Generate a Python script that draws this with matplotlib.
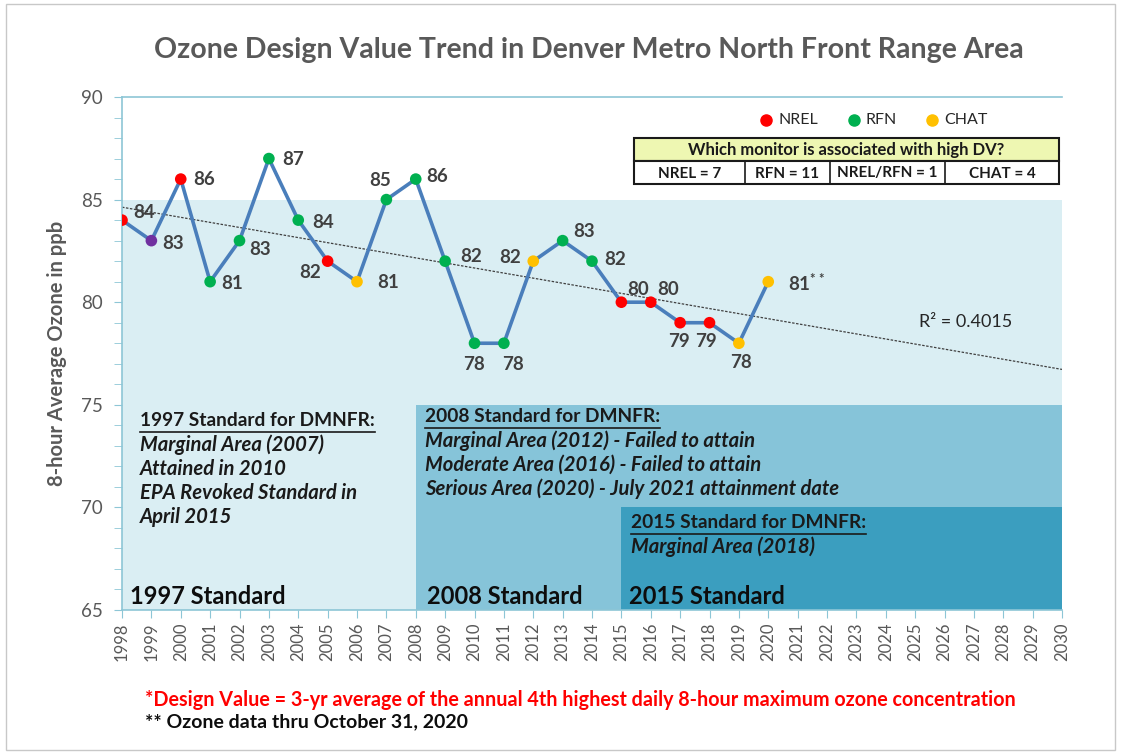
import numpy as np
import matplotlib
matplotlib.use("Agg")
import matplotlib.pyplot as plt
from matplotlib.patches import Rectangle
from matplotlib.lines import Line2D

# data
years = list(range(1998, 2021))
design_values = [84, 83, 86, 81, 83, 87, 84, 82, 81, 85, 86, 82, 78, 78, 82, 83, 82, 80, 80, 79, 79, 78, 81]
monitors = ["NREL", "NREL/RFN", "NREL", "RFN", "RFN", "RFN", "RFN", "NREL", "CHAT", "RFN", "RFN", "RFN",
            "RFN", "RFN", "CHAT", "RFN", "RFN", "NREL", "NREL", "NREL", "NREL", "CHAT", "CHAT"]
value_labels = [str(v) for v in design_values]
value_labels[-1] = r"81$^{\mathbf{**}}$"
standard_starts = [1998, 2008, 2015]
standard_levels = [85, 75, 70]
standard_names = ["1997 Standard", "2008 Standard", "2015 Standard"]
monitor_counts = ["NREL = 7", "RFN = 11", "NREL/RFN = 1", "CHAT = 4"]
r_squared = "R² = 0.4015"

monitor_colors = {"NREL": "#FF0000", "RFN": "#00B050", "CHAT": "#FFC000", "NREL/RFN": "#7030A0"}
region_colors = ["#DAEEF3", "#86C4D9", "#3B9EBF"]
# label offsets in pixels (dx, dy), screen y is up
label_offsets = [(22, 8), (22, -3), (23, 0), (22, -2), (21, -9), (24, -1), (25, -2), (-18, -11),
                 (31, -1), (-6, 19), (21, 3), (26, 5), (0, -21), (9, -21), (-23, 4), (21, 9),
                 (23, 2), (17, 13), (17, 13), (-1, -19), (-3, -19), (2, -19), (38, -1)]

W, H = 1121, 754
fig = plt.figure(figsize=(W / 100, H / 100), dpi=100)
FONT = "Lato"
plt.rcParams["font.family"] = [FONT, "DejaVu Sans"]
plt.rcParams["mathtext.fontset"] = "custom"
plt.rcParams["mathtext.bf"] = "Lato:bold"


def px(x, y):
    return x / W, 1 - y / H


ax = fig.add_axes([122 / W, 1 - 610 / H, (1062 - 122) / W, (610 - 97) / H])
ax.set_xlim(1998, 2030)
ax.set_ylim(65, 90)

# shaded standard regions
for start, level, col in zip(standard_starts, standard_levels, region_colors):
    ax.add_patch(Rectangle((start, 65), 2030 - start, level - 65, facecolor=col, edgecolor="none", zorder=0))

# trend line
coef = np.polyfit(years, design_values, 1)
xt = np.array([1998, 2030])
ax.plot(xt, np.polyval(coef, xt), color="#404040", lw=0.9, ls=(0, (2, 1.2)), zorder=2)

# data line and markers
ax.plot(years, design_values, color="#4A7EBB", lw=2.6, zorder=3)
ax.scatter(years, design_values, c=[monitor_colors[m] for m in monitors], s=70, zorder=4, edgecolors="none")

for x, y, lab, (dx, dy) in zip(years, design_values, value_labels, label_offsets):
    ax.annotate(lab, (x, y), xytext=(dx, dy), textcoords="offset pixels", ha="center", va="center",
                fontsize=13.5, fontweight="bold", color="#404040", zorder=5)

# axes styling
spine_col = "#8DC6D6"
for s in ["right", "bottom", "top"]:
    ax.spines[s].set_visible(False)
ax.spines["left"].set_color(spine_col)
ax.spines["left"].set_linewidth(1.2)
ax.axhline(90, color=spine_col, lw=1.2, zorder=1, clip_on=False)
ax.axhline(65, color=spine_col, lw=1.2, zorder=1, clip_on=False)
ax.set_xticks(range(1998, 2031))
ax.set_xticklabels([str(y) for y in range(1998, 2031)], rotation=90, fontsize=12, color="#595959")
ax.set_yticks(range(65, 91, 5))
ax.set_yticks(range(65, 91), minor=True)
ax.tick_params(axis="y", which="major", length=6, color=spine_col, labelsize=13.5, labelcolor="#595959", pad=8)
ax.tick_params(axis="y", which="minor", length=6, color=spine_col)
ax.tick_params(axis="x", length=6, color=spine_col, pad=3)
ax.set_ylabel("8-hour Average Ozone in ppb", fontsize=14.5, fontweight="bold", color="#595959", labelpad=10)

# title
fig.text(*px(589, 50), "Ozone Design Value Trend in Denver Metro North Front Range Area", ha="center", va="center",
         fontsize=20.5, fontweight="bold", color="#595959")

# legend dots
for name, xpos in zip(["NREL", "RFN", "CHAT"], [766, 854, 932]):
    fig.add_artist(Line2D([xpos / W], [1 - 120 / H], marker="o", color=monitor_colors[name], markersize=8, ls="none"))
    fig.text(*px(xpos + 12, 120), name, ha="left", va="center", fontsize=11.5, color="#262626")

# table
tx0, tx1, ty0, ty1, ty2 = 634, 1059, 138, 161, 184
fig.add_artist(Rectangle(px(tx0, ty1), (tx1 - tx0) / W, (ty1 - ty0) / H, facecolor="#EEF7B2", edgecolor="#1a1a1a", lw=1.5))
fig.add_artist(Rectangle(px(tx0, ty2), (tx1 - tx0) / W, (ty2 - ty1) / H, facecolor="white", edgecolor="#1a1a1a", lw=1.5))
fig.text(*px((tx0 + tx1) / 2, (ty0 + ty1) / 2 + 1), "Which monitor is associated with high DV?", ha="center", va="center",
         fontsize=12, fontweight="bold", color="#1a1a1a")
cells = [tx0, 745, 830, 945, tx1]
for i, lab in enumerate(monitor_counts):
    if i > 0:
        fig.add_artist(Line2D([cells[i] / W] * 2, [1 - ty1 / H, 1 - ty2 / H], color="#1a1a1a", lw=1.2))
    fig.text(*px((cells[i] + cells[i + 1]) / 2, (ty1 + ty2) / 2 + 1), lab, ha="center", va="center",
             fontsize=11, fontweight="bold", color="#1a1a1a")

fig.text(*px(966, 322), r_squared, ha="center", va="center", fontsize=13, color="#262626")

# standards text
renderer = fig.canvas.get_renderer()


def heading(x, y, s):
    t = fig.text(*px(x, y), s, ha="left", va="center", fontsize=13.8, fontweight="bold", color="#1a1a1a")
    bb = t.get_window_extent(renderer)
    yy = 1 - (y + 11) / H
    fig.add_artist(Line2D([bb.x0 / W, bb.x1 / W], [yy, yy], color="#1a1a1a", lw=1.2))


def body(x, y, lines, step=24):
    for i, s in enumerate(lines):
        fig.text(*px(x, y + i * step), s, ha="left", va="center", fontsize=14.6, fontweight="bold",
                 fontstyle="italic", color="#1a1a1a")


heading(140, 421, "1997 Standard for DMNFR:")
body(140, 445, ["Marginal Area (2007)", "Attained in 2010", "EPA Revoked Standard in", "April 2015"])
heading(425, 417, "2008 Standard for DMNFR:")
body(425, 441, ["Marginal Area (2012) - Failed to attain", "Moderate Area (2016) - Failed to attain",
                "Serious Area (2020) - July 2021 attainment date"])
heading(631, 523, "2015 Standard for DMNFR:")
body(631, 547, ["Marginal Area (2018)"])

for name, xpos in zip(standard_names, [130, 427, 629]):
    fig.text(*px(xpos, 597), name, ha="left", va="center", fontsize=17, fontweight="bold", color="#0d0d0d")

# footnotes
fig.text(*px(145, 700), "*Design Value = 3-yr average of the annual 4th highest daily 8-hour maximum ozone concentration",
         ha="left", va="center", fontsize=14.2, fontweight="bold", color="#FF0000")
fig.text(*px(145, 722), "** Ozone data thru October 31, 2020", ha="left", va="center", fontsize=14,
         fontweight="bold", color="#0d0d0d")

# outer frame
fig.add_artist(Rectangle((6 / W, 4 / H), (W - 12) / W, (H - 8) / H, facecolor="none", edgecolor="#C8C8C8", lw=1))

fig.savefig("out.png", dpi=100)
